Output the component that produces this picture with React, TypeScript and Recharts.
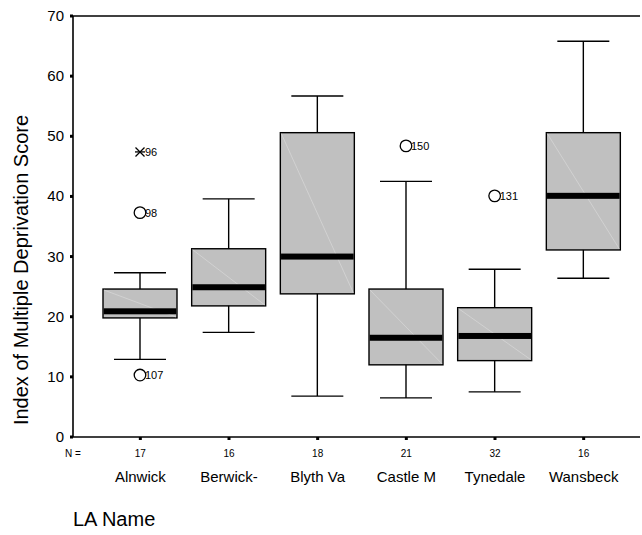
import { Bar, ComposedChart, ReferenceLine, XAxis, YAxis } from "recharts";

// Deprivation scores by local authority (SPSS-style box plot)
const categories = ["Alnwick", "Berwick-", "Blyth Va", "Castle M", "Tynedale", "Wansbeck"];
const counts = [17, 16, 18, 21, 32, 16];
const whiskerLow = [12.9, 17.4, 6.8, 6.5, 7.5, 26.4];
const quartile1 = [19.8, 21.8, 23.8, 12.0, 12.7, 31.1];
const medians = [20.9, 24.9, 30.0, 16.5, 16.8, 40.1];
const quartile3 = [24.6, 31.3, 50.6, 24.6, 21.5, 50.6];
const whiskerHigh = [27.3, 39.6, 56.7, 42.5, 27.9, 65.8];

// outliers (circles) and extremes (asterisks), labelled by case number
const outlierArea = ["Alnwick", "Alnwick", "Castle M", "Tynedale"];
const outlierValues = [37.3, 10.3, 48.4, 40.1];
const outlierCases = [98, 107, 150, 131];
const extremeArea = ["Alnwick"];
const extremeValues = [47.4];
const extremeCases = [96];

const yTicks = [0, 10, 20, 30, 40, 50, 60, 70];

const FONT = "'Liberation Sans', Arial, sans-serif";

const rows = categories.map((name, i) => ({
  name,
  n: counts[i],
  lo: whiskerLow[i],
  q1: quartile1[i],
  med: medians[i],
  q3: quartile3[i],
  hi: whiskerHigh[i],
  outliers: outlierArea
    .map((a, j) => ({ a, value: outlierValues[j], id: outlierCases[j] }))
    .filter((o) => o.a === name),
  extremes: extremeArea
    .map((a, j) => ({ a, value: extremeValues[j], id: extremeCases[j] }))
    .filter((o) => o.a === name),
}));

type Row = (typeof rows)[number];

// The bar spans 0..q3, so its geometry gives the value-to-pixel mapping.
function BoxShape(props: any) {
  const { x, y, width, height, payload } = props;
  const d = payload as Row;
  const base = y + height;
  const k = height / d.q3;
  const toY = (v: number) => base - v * k;
  const cx = x + width / 2;
  const cap = 26;
  const top = toY(d.q3);
  const bottom = toY(d.q1);
  const m = toY(d.med);

  return (
    <g>
      <line x1={cx} x2={cx} y1={toY(d.hi)} y2={toY(d.lo)} stroke="#000" strokeWidth={1.4} />
      <line x1={cx - cap} x2={cx + cap} y1={toY(d.hi)} y2={toY(d.hi)} stroke="#000" strokeWidth={1.4} />
      <line x1={cx - cap} x2={cx + cap} y1={toY(d.lo)} y2={toY(d.lo)} stroke="#000" strokeWidth={1.4} />
      <rect x={x} y={top} width={width} height={bottom - top} fill="#c0c0c0" stroke="#000" strokeWidth={1.4} />
      <line x1={x + 1} y1={top + 1} x2={x + width - 1} y2={bottom - 1} stroke="#d9d9d9" strokeWidth={0.7} />
      <rect x={x + 0.7} y={m - 3} width={width - 1.4} height={6} fill="#000" />
      {d.outliers.map((o) => (
        <g key={o.id}>
          <circle cx={cx} cy={toY(o.value)} r={5.8} fill="none" stroke="#000" strokeWidth={1.3} />
          <text x={cx + 5} y={toY(o.value) + 4} fontSize={11} fontFamily={FONT} fill="#000">
            {o.id}
          </text>
        </g>
      ))}
      {d.extremes.map((o) => {
        const ey = toY(o.value);
        return (
          <g key={o.id} stroke="#000" strokeWidth={1.3}>
            <line x1={cx - 4.5} x2={cx + 4.5} y1={ey - 4.5} y2={ey + 4.5} />
            <line x1={cx - 4.5} x2={cx + 4.5} y1={ey + 4.5} y2={ey - 4.5} />
            <line x1={cx - 5} x2={cx + 5} y1={ey} y2={ey} />
            <text x={cx + 5} y={ey + 4} fontSize={11} fontFamily={FONT} fill="#000" stroke="none">
              {o.id}
            </text>
          </g>
        );
      })}
    </g>
  );
}

function CategoryTick(props: any) {
  const { x, y, index, payload } = props;
  return (
    <g>
      <rect x={x - 1.5} y={y} width={3} height={3} fill="#000" />
      <text x={x} y={y + 20} textAnchor="middle" fontSize={10} fontFamily={FONT} fill="#000">
        {counts[index]}
      </text>
      <text x={x} y={y + 45} textAnchor="middle" fontSize={15} fontFamily={FONT} fill="#000">
        {payload.value}
      </text>
    </g>
  );
}

function ValueTick(props: any) {
  const { x, y, payload } = props;
  return (
    <g>
      <rect x={x - 3} y={y - 1.5} width={3} height={3} fill="#000" />
      <text x={x - 9} y={y + 5} textAnchor="end" fontSize={15} fontFamily={FONT} fill="#000">
        {payload.value}
      </text>
    </g>
  );
}

export default function App() {
  return (
    <div style={{ position: "absolute", left: 0, top: 0, width: 642, height: 535, background: "#fff" }}>
      <ComposedChart
        width={642}
        height={535}
        data={rows}
        margin={{ top: 16, right: 2, bottom: 38, left: 13 }}
      >
        <XAxis
          dataKey="name"
          interval={0}
          height={60}
          padding={{ left: 23, right: 12 }}
          axisLine={{ stroke: "#000", strokeWidth: 1.6 }}
          tickLine={false}
          tickSize={0}
          tickMargin={0}
          tick={<CategoryTick />}
        />
        <YAxis
          type="number"
          domain={[0, 70]}
          ticks={yTicks}
          width={60}
          axisLine={{ stroke: "#000", strokeWidth: 1.6 }}
          tickLine={false}
          tickSize={0}
          tickMargin={0}
          tick={<ValueTick />}
        />
        <ReferenceLine y={70} stroke="#000" strokeWidth={1.6} />
        <Bar dataKey="q3" barSize={74} isAnimationActive={false} shape={<BoxShape />} />
        <text x={73} y={457} textAnchor="middle" fontSize={10} fontFamily={FONT} fill="#000">
          N =
        </text>
        <text x={73} y={526} fontSize={20} fontFamily={FONT} fill="#000">
          LA Name
        </text>
        <text
          x={0}
          y={0}
          transform="translate(28 270) rotate(-90)"
          textAnchor="middle"
          fontSize={20}
          fontFamily={FONT}
          fill="#000"
        >
          Index of Multiple Deprivation Score
        </text>
      </ComposedChart>
    </div>
  );
}
